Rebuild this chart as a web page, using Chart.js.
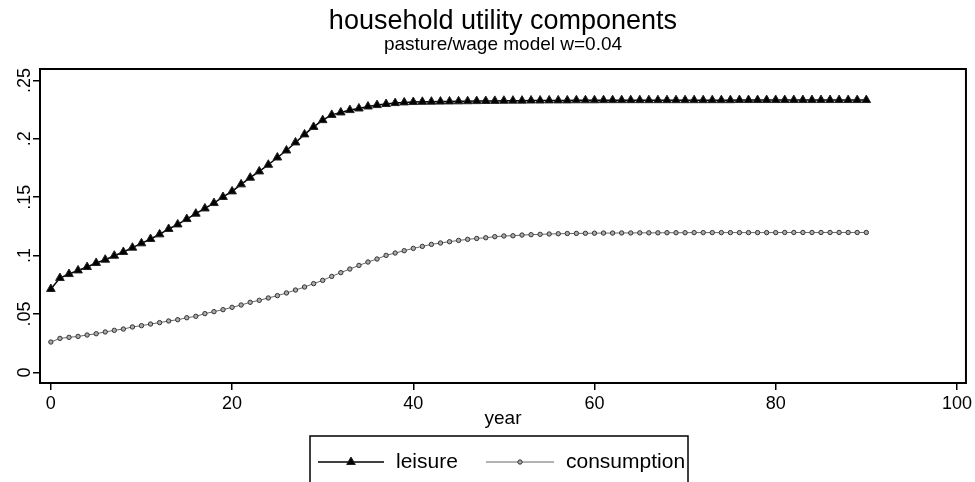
<!DOCTYPE html>
<html>
<head>
<meta charset="utf-8">
<script src="https://cdn.jsdelivr.net/npm/chart.js@4/dist/chart.umd.min.js"></script>
<style>
  html, body { margin: 0; padding: 0; background: #fff; }
  #wrap { width: 975px; height: 482px; position: relative; }
</style>
</head>
<body>
<div id="wrap"><canvas id="chart"></canvas></div>
<script>
// years on the x axis
const years = Array.from({ length: 91 }, (_, i) => i);

// leisure utility component
const leisure = [
  0.0714, 0.0808, 0.0842, 0.0873, 0.0902, 0.0937, 0.0965, 0.0999, 0.1031, 0.1068,
  0.1105, 0.1142, 0.1182, 0.1228, 0.1267, 0.1313, 0.1359, 0.1404, 0.1450, 0.1502,
  0.1550, 0.1610, 0.1667, 0.1721, 0.1778, 0.1840, 0.1900, 0.1969, 0.2038, 0.2102,
  0.2160, 0.2205, 0.2226, 0.2246, 0.2260, 0.2277, 0.2289, 0.2298, 0.2306, 0.2312,
  0.2315, 0.2317, 0.2318, 0.2319, 0.2320, 0.2321, 0.2322, 0.2323, 0.2324, 0.2325,
  0.2326, 0.2327, 0.2327, 0.2328, 0.2328, 0.2329, 0.2329, 0.2329, 0.2330, 0.2330,
  0.2330, 0.2331, 0.2331, 0.2331, 0.2331, 0.2331, 0.2331, 0.2331, 0.2331, 0.2331,
  0.2331, 0.2331, 0.2331, 0.2331, 0.2331, 0.2331, 0.2332, 0.2332, 0.2332, 0.2332,
  0.2332, 0.2332, 0.2332, 0.2332, 0.2332, 0.2332, 0.2332, 0.2332, 0.2332, 0.2332,
  0.2332
];

// consumption utility component
const consumption = [
  0.0260, 0.0291, 0.0300, 0.0308, 0.0320, 0.0331, 0.0346, 0.0360, 0.0371, 0.0389,
  0.0400, 0.0414, 0.0426, 0.0440, 0.0451, 0.0468, 0.0480, 0.0503, 0.0520, 0.0537,
  0.0557, 0.0577, 0.0600, 0.0617, 0.0637, 0.0657, 0.0680, 0.0705, 0.0731, 0.0760,
  0.0788, 0.0822, 0.0854, 0.0885, 0.0916, 0.0945, 0.0971, 0.1002, 0.1022, 0.1042,
  0.1062, 0.1079, 0.1096, 0.1108, 0.1119, 0.1130, 0.1139, 0.1147, 0.1153, 0.1162,
  0.1168, 0.1170, 0.1176, 0.1179, 0.1182, 0.1185, 0.1187, 0.1189, 0.1190, 0.1191,
  0.1192, 0.1193, 0.1193, 0.1194, 0.1194, 0.1195, 0.1195, 0.1195, 0.1196, 0.1196,
  0.1196, 0.1197, 0.1197, 0.1197, 0.1197, 0.1197, 0.1197, 0.1197, 0.1197, 0.1197,
  0.1197, 0.1198, 0.1198, 0.1198, 0.1198, 0.1198, 0.1198, 0.1198, 0.1198, 0.1198,
  0.1198
];

// axis ticks
const xTicks = [0, 20, 40, 60, 80, 100];
const yTicks = [0, 0.05, 0.1, 0.15, 0.2, 0.25];
const yTickLabels = ['0', '.05', '.1', '.15', '.2', '.25'];

const FONT = "'Liberation Sans', Arial, Helvetica, sans-serif";

// black frame round the plot area
const framePlugin = {
  id: 'frame',
  afterDatasetsDraw(chart) {
    const a = chart.chartArea;
    const ctx = chart.ctx;
    ctx.save();
    ctx.strokeStyle = '#000';
    ctx.lineWidth = 2;
    ctx.strokeRect(a.left, a.top, a.right - a.left, a.bottom - a.top);
    ctx.restore();
  }
};

// legend in a box: line sample with a marker in the middle
const legendPlugin = {
  id: 'boxLegend',
  afterDraw(chart) {
    const ctx = chart.ctx;
    const boxX = 310, boxY = 436, boxW = 378, boxH = 60;
    const cy = 462;
    ctx.save();
    ctx.strokeStyle = '#000';
    ctx.lineWidth = 1.5;
    ctx.strokeRect(boxX, boxY, boxW, boxH);

    const items = [
      { ds: chart.data.datasets[0], x0: 318, x1: 384, tx: 396 },
      { ds: chart.data.datasets[1], x0: 486, x1: 554, tx: 566 }
    ];
    items.forEach(it => {
      ctx.strokeStyle = it.ds.borderColor;
      ctx.lineWidth = it.ds.borderWidth;
      ctx.beginPath();
      ctx.moveTo(it.x0, cy);
      ctx.lineTo(it.x1, cy);
      ctx.stroke();
      ctx.fillStyle = it.ds.pointBackgroundColor;
      ctx.strokeStyle = it.ds.pointBorderColor;
      ctx.lineWidth = it.ds.pointBorderWidth;
      Chart.helpers.drawPoint(ctx, {
        pointStyle: it.ds.pointStyle,
        radius: it.ds.pointRadius,
        rotation: 0,
        borderWidth: it.ds.pointBorderWidth
      }, (it.x0 + it.x1) / 2, cy);
      ctx.fillStyle = '#000';
      ctx.font = '21px ' + FONT;
      ctx.textBaseline = 'middle';
      ctx.textAlign = 'left';
      ctx.fillText(it.ds.label, it.tx, cy);
    });
    ctx.restore();
  }
};

const ctx = document.getElementById('chart').getContext('2d');
new Chart(ctx, {
  type: 'line',
  data: {
    datasets: [
      {
        label: 'leisure',
        data: years.map((yr, i) => ({ x: yr, y: leisure[i] })),
        borderColor: '#000',
        backgroundColor: '#000',
        borderWidth: 1.5,
        pointStyle: 'triangle',
        pointRadius: 5,
        pointBorderWidth: 1,
        pointBorderColor: '#222',
        pointBackgroundColor: '#000',
        tension: 0
      },
      {
        label: 'consumption',
        data: years.map((yr, i) => ({ x: yr, y: consumption[i] })),
        borderColor: '#666',
        backgroundColor: '#999',
        borderWidth: 1,
        pointStyle: 'circle',
        pointRadius: 2.2,
        pointBorderWidth: 1,
        pointBorderColor: '#333',
        pointBackgroundColor: '#aaa',
        tension: 0
      }
    ]
  },
  options: {
    responsive: true,
    maintainAspectRatio: false,
    animation: false,
    layout: { padding: { left: 0, right: 7, top: 0, bottom: 46 } },
    plugins: {
      legend: { display: false },
      tooltip: { enabled: false },
      title: {
        display: true,
        fullSize: false,
        text: 'household utility components',
        color: '#000',
        font: { family: FONT, size: 27, weight: 'normal', lineHeight: 1.0 },
        padding: { top: 8, bottom: 0 }
      },
      subtitle: {
        display: true,
        fullSize: false,
        text: 'pasture/wage model w=0.04',
        color: '#000',
        font: { family: FONT, size: 19, weight: 'normal', lineHeight: 1.0 },
        padding: { top: 0, bottom: 15 }
      }
    },
    scales: {
      x: {
        type: 'linear',
        min: -1.2,
        max: 101,
        afterBuildTicks: s => { s.ticks = xTicks.map(v => ({ value: v })); },
        afterFit: s => { s.height = 53; },
        grid: { drawOnChartArea: false, drawTicks: true, tickLength: 7, color: '#000', lineWidth: 1.5 },
        border: { display: true, color: '#000', width: 2 },
        ticks: { color: '#000', font: { family: FONT, size: 18 }, padding: 3, maxRotation: 0 },
        title: {
          display: true,
          text: 'year',
          color: '#000',
          font: { family: FONT, size: 19 },
          padding: { top: 0, bottom: 6 }
        }
      },
      y: {
        type: 'linear',
        min: -0.0091,
        max: 0.2598,
        afterBuildTicks: s => { s.ticks = yTicks.map(v => ({ value: v })); },
        afterFit: s => { s.width = 40; },
        grid: { drawOnChartArea: false, drawTicks: true, tickLength: 7, color: '#000', lineWidth: 1.5 },
        border: { display: true, color: '#000', width: 2 },
        ticks: {
          color: '#000',
          font: { family: FONT, size: 18 },
          padding: -5,
          crossAlign: 'center',
          minRotation: 90,
          maxRotation: 90,
          callback: (v) => {
            const i = yTicks.findIndex(t => Math.abs(t - v) < 1e-9);
            return i >= 0 ? yTickLabels[i] : '';
          }
        }
      }
    }
  },
  plugins: [framePlugin, legendPlugin]
});
</script>
</body>
</html>
